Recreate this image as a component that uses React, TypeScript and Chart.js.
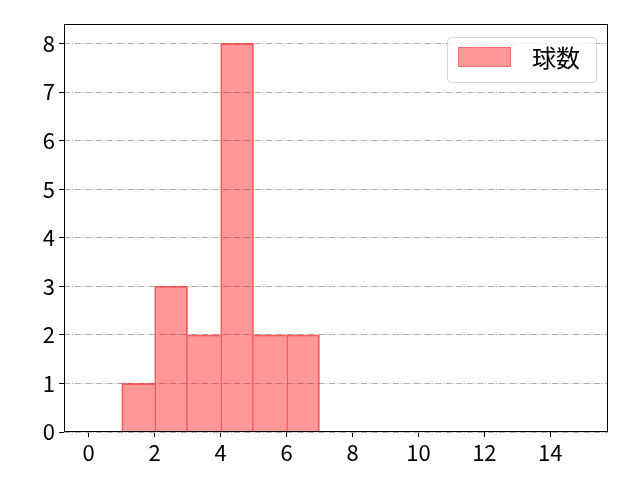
import React, { useEffect, useRef } from "react";
import { Chart, registerables } from "chart.js";

Chart.register(...registerables);

const binEdges = [0, 1, 2, 3, 4, 5, 6, 7, 8, 9, 10, 11, 12, 13, 14, 15];
const counts = [0, 1, 3, 2, 8, 2, 2, 0, 0, 0, 0, 0, 0, 0, 0];
const xTicks = [0, 2, 4, 6, 8, 10, 12, 14];
const yTicks = [0, 1, 2, 3, 4, 5, 6, 7, 8];
const seriesLabel = "球数";

const FONT = "'Noto Sans CJK JP', 'Noto Sans', sans-serif";
const FILL = "rgba(255,0,0,0.4)";
const EDGE = "rgba(255,0,0,0.55)";

const framePlugin = {
  id: "frameAndLegend",
  afterDraw(chart: any) {
    const { ctx, chartArea } = chart;
    ctx.save();
    ctx.strokeStyle = "#000";
    ctx.lineWidth = 1;
    ctx.strokeRect(
      Math.round(chartArea.left) + 0.5,
      Math.round(chartArea.top) + 0.5,
      Math.round(chartArea.right - chartArea.left) - 1,
      Math.round(chartArea.bottom - chartArea.top) - 1
    );
    // legend
    const bx = chartArea.right - 161;
    const by = chartArea.top + 13;
    const bw = 149;
    const bh = 45;
    ctx.beginPath();
    ctx.roundRect(bx + 0.5, by + 0.5, bw, bh, 4);
    ctx.fillStyle = "rgba(255,255,255,0.8)";
    ctx.fill();
    ctx.strokeStyle = "rgba(204,204,204,0.8)";
    ctx.stroke();
    ctx.fillStyle = FILL;
    ctx.fillRect(bx + 11, by + 10, 53, 20);
    ctx.strokeStyle = "rgba(255,0,0,0.3)";
    ctx.strokeRect(bx + 11.5, by + 10.5, 52, 19);
    ctx.fillStyle = "#000";
    ctx.font = `24px ${FONT}`;
    ctx.textBaseline = "middle";
    ctx.textAlign = "left";
    ctx.fillText(seriesLabel, bx + 85, by + 21);
    ctx.restore();
  },
};

export default function App() {
  const ref = useRef<HTMLCanvasElement | null>(null);
  useEffect(() => {
    if (!ref.current) return;
    const data = counts.map((c, i) => ({ x: (binEdges[i] + binEdges[i + 1]) / 2, y: c }));
    const chart = new Chart(ref.current, {
      type: "bar",
      data: {
        datasets: [
          {
            label: seriesLabel,
            data,
            backgroundColor: FILL,
            borderColor: EDGE,
            borderWidth: (c: any) => {
              const i = c.dataIndex;
              const h = counts[i] ?? 0;
              if (!h) return 0;
              const prev = i > 0 ? counts[i - 1] : 0;
              const next = i + 1 < counts.length ? counts[i + 1] : 0;
              return { left: prev <= h ? 1 : 0, right: next < h ? 1 : 0, top: 1, bottom: 0 };
            },
            barPercentage: 1,
            categoryPercentage: 1,
          },
        ],
      },
      plugins: [framePlugin],
      options: {
        animation: false,
        responsive: false,
        layout: { padding: { top: 24, right: 32, left: 0, bottom: 0 } },
        plugins: { legend: { display: false }, tooltip: { enabled: false } },
        scales: {
          x: {
            type: "linear",
            offset: false,
            min: -0.75,
            max: 15.75,
            afterBuildTicks: (s: any) => {
              s.ticks = xTicks.map((v) => ({ value: v }));
            },
            afterFit: (s: any) => {
              s.height = 48;
            },
            grid: {
              display: true,
              offset: false,
              drawOnChartArea: false,
              drawTicks: true,
              tickLength: 5,
              tickColor: "#000",
              tickWidth: 1,
            },
            border: { display: false },
            ticks: {
              color: "#000",
              font: { family: FONT, size: 22 },
              padding: 2,
              maxRotation: 0,
              autoSkip: false,
            },
          },
          y: {
            min: 0,
            max: 8.4,
            afterBuildTicks: (s: any) => {
              s.ticks = yTicks.map((v) => ({ value: v }));
            },
            afterFit: (s: any) => {
              s.width = 64;
            },
            grid: {
              display: true,
              drawOnChartArea: true,
              drawTicks: true,
              tickLength: 5,
              color: "#b0b0b0",
              lineWidth: 1,
              tickColor: "#000",
              tickBorderDash: [],
              tickWidth: 1,
            },
            border: { display: false, dash: [6.4, 1.6, 1, 1.6] },
            ticks: {
              color: "#000",
              font: { family: FONT, size: 22 },
              padding: 4,
              autoSkip: false,
            },
          },
        },
      },
    } as any);
    return () => chart.destroy();
  }, []);
  return (
    <div style={{ position: "fixed", left: 0, top: 0, width: 640, height: 480, background: "#fff" }}>
      <canvas ref={ref} width={640} height={480} style={{ width: 640, height: 480 }} />
    </div>
  );
}
